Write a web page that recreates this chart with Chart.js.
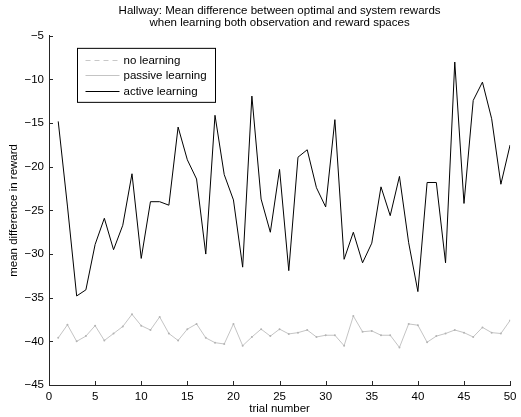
<!DOCTYPE html>
<html>
<head>
<meta charset="utf-8">
<script src="https://cdn.jsdelivr.net/npm/chart.js@4/dist/chart.umd.min.js"></script>
<style>
  html, body { margin: 0; padding: 0; background: #ffffff; }
  #wrap { width: 521px; height: 417px; }
</style>
</head>
<body>
<div id="wrap"><canvas id="rewardChart" width="521" height="417"></canvas></div>
<script>
const trials = [1, 2, 3, 4, 5, 6, 7, 8, 9, 10, 11, 12, 13, 14, 15, 16, 17, 18, 19, 20,
  21, 22, 23, 24, 25, 26, 27, 28, 29, 30, 31, 32, 33, 34, 35, 36, 37, 38, 39, 40,
  41, 42, 43, 44, 45, 46, 47, 48, 49, 50];

const noLearning = [];

const passiveLearning = [-39.6, -38.1, -40.0, -39.4, -38.2, -39.9, -39.1, -38.3, -36.9, -38.2,
  -38.7, -37.2, -39.1, -39.9, -38.6, -38.0, -39.6, -40.15, -40.3, -38.0,
  -40.5, -39.5, -38.6, -39.4, -38.6, -39.15, -39.0, -38.7, -39.5, -39.3,
  -39.3, -40.5, -37.1, -38.9, -38.8, -39.3, -39.3, -40.7, -38.0, -38.15,
  -40.1, -39.4, -39.1, -38.7, -39.0, -39.5, -38.4, -39.0, -39.1, -37.6];

const activeLearning = [-14.8, -24.5, -34.8, -34.1, -28.9, -25.9, -29.5, -26.7, -20.8, -30.5,
  -24.0, -24.0, -24.4, -15.45, -19.2, -21.4, -30.0, -14.1, -20.9, -23.8,
  -31.5, -11.9, -23.7, -27.5, -20.3, -31.9, -18.9, -18.05, -22.4, -24.6,
  -14.6, -30.6, -27.5, -31.0, -28.75, -22.3, -25.6, -21.1, -28.7, -34.3,
  -21.8, -21.8, -31.0, -8.0, -24.2, -12.4, -10.3, -14.5, -22.0, -17.5];

const xTicks = [0, 5, 10, 15, 20, 25, 30, 35, 40, 45, 50];
const yTicks = [-45, -40, -35, -30, -25, -20, -15, -10, -5];

const titleLines = [
  "Hallway: Mean difference between optimal and system rewards",
  "when learning both observation and reward spaces",
];

const fontFamily = "'Liberation Sans', Arial, Helvetica, sans-serif";
const axisColor = "#262626";

function toPoints(values) {
  return values.map((v, i) => ({ x: trials[i], y: v }));
}

// MATLAB draws its tick marks on the inside of the axes
const inwardTicks = {
  id: "inwardTicks",
  afterDraw(chart) {
    const { ctx, chartArea } = chart;
    const { x, y } = chart.scales;
    ctx.save();
    ctx.strokeStyle = axisColor;
    ctx.lineWidth = 1;
    ctx.beginPath();
    x.ticks.forEach((t, i) => {
      const px = Math.round(x.getPixelForTick(i)) + 0.5;
      ctx.moveTo(px, chartArea.bottom);
      ctx.lineTo(px, chartArea.bottom - 4);
    });
    y.ticks.forEach((t, i) => {
      const py = Math.round(y.getPixelForTick(i)) + 0.5;
      ctx.moveTo(chartArea.left, py);
      ctx.lineTo(chartArea.left + 4, py);
    });
    ctx.stroke();
    ctx.restore();
  },
};

// boxed legend in the upper left of the plot
const boxLegend = {
  id: "boxLegend",
  afterDraw(chart) {
    const { ctx, chartArea } = chart;
    const left = chartArea.left + 28.5;
    const top = chartArea.top + 12.5;
    const w = 138;
    const h = 54;
    ctx.save();
    ctx.fillStyle = "#ffffff";
    ctx.fillRect(left, top, w, h);
    ctx.strokeStyle = "#000000";
    ctx.lineWidth = 1;
    ctx.strokeRect(left, top, w, h);
    ctx.font = "11.5px " + fontFamily;
    ctx.textBaseline = "middle";
    chart.data.datasets.forEach((ds, i) => {
      const rowY = Math.round(top + 11.5 + i * 15.5) + 0.5;
      ctx.beginPath();
      ctx.strokeStyle = ds.borderColor;
      ctx.lineWidth = ds.borderWidth;
      ctx.setLineDash(ds.borderDash || []);
      ctx.moveTo(left + 8, rowY);
      ctx.lineTo(left + 42, rowY);
      ctx.stroke();
      ctx.setLineDash([]);
      ctx.fillStyle = "#000000";
      ctx.fillText(ds.label, left + 46, rowY);
    });
    ctx.restore();
  },
};

new Chart(document.getElementById("rewardChart"), {
  type: "line",
  data: {
    datasets: [
      {
        label: "no learning",
        data: toPoints(noLearning),
        borderColor: "#c8c8c8",
        borderDash: [5, 4],
        borderWidth: 1,
        pointRadius: 0,
      },
      {
        label: "passive learning",
        data: toPoints(passiveLearning),
        borderColor: "#c4c4c4",
        borderWidth: 1,
        pointRadius: 1,
        pointBorderWidth: 0,
        pointBackgroundColor: "#b4b4b4",
      },
      {
        label: "active learning",
        data: toPoints(activeLearning),
        borderColor: "#000000",
        borderWidth: 1,
        pointRadius: 0,
      },
    ],
  },
  options: {
    responsive: false,
    animation: false,
    events: [],
    layout: { padding: 0 },
    plugins: {
      legend: { display: false },
      tooltip: { enabled: false },
      title: {
        display: true,
        fullSize: false,
        text: titleLines,
        color: "#000000",
        font: { family: fontFamily, size: 11.5, weight: "normal", lineHeight: 1.05 },
        padding: { top: 4.7, bottom: 7 },
      },
    },
    scales: {
      x: {
        type: "linear",
        min: 0,
        max: 50,
        afterBuildTicks: (scale) => {
          scale.ticks = xTicks.map((v) => ({ value: v }));
        },
        afterFit: (scale) => {
          scale.height = 32;
        },
        grid: { display: false, drawTicks: false },
        border: { display: true, color: axisColor, width: 1 },
        ticks: {
          color: "#000000",
          padding: 4.5,
          maxRotation: 0,
          font: { family: fontFamily, size: 11.5 },
        },
        title: {
          display: true,
          text: "trial number",
          color: "#000000",
          font: { family: fontFamily, size: 11.5 },
          padding: { top: 0, bottom: 1.5 },
        },
      },
      y: {
        type: "linear",
        min: -45,
        max: -5,
        afterBuildTicks: (scale) => {
          scale.ticks = yTicks.map((v) => ({ value: v }));
        },
        afterFit: (scale) => {
          scale.width = 49;
        },
        grid: { display: false, drawTicks: false },
        border: { display: true, color: axisColor, width: 1 },
        ticks: {
          color: "#000000",
          padding: 5,
          font: { family: fontFamily, size: 11.5 },
          callback: (v) => String(v).replace("-", "\u2212"),
        },
        title: {
          display: true,
          text: "mean difference in reward",
          color: "#000000",
          font: { family: fontFamily, size: 11.5 },
          padding: { top: 6.7, bottom: 0 },
        },
      },
    },
  },
  plugins: [inwardTicks, boxLegend],
});
</script>
</body>
</html>
